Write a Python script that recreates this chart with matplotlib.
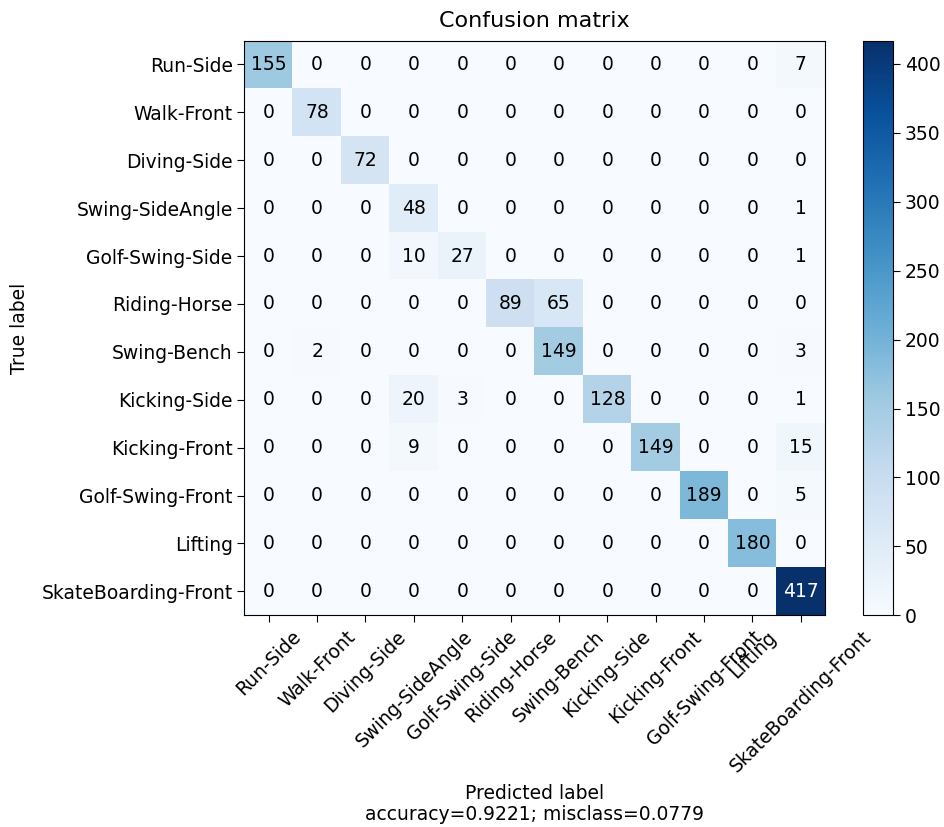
import numpy as np
import matplotlib
matplotlib.use("Agg")
import matplotlib.pyplot as plt

target_names = ["Run-Side", "Walk-Front", "Diving-Side", "Swing-SideAngle",
                "Golf-Swing-Side", "Riding-Horse", "Swing-Bench", "Kicking-Side",
                "Kicking-Front", "Golf-Swing-Front", "Lifting", "SkateBoarding-Front"]

row_run_side = [155, 0, 0, 0, 0, 0, 0, 0, 0, 0, 0, 7]
row_walk_front = [0, 78, 0, 0, 0, 0, 0, 0, 0, 0, 0, 0]
row_diving_side = [0, 0, 72, 0, 0, 0, 0, 0, 0, 0, 0, 0]
row_swing_sideangle = [0, 0, 0, 48, 0, 0, 0, 0, 0, 0, 0, 1]
row_golf_swing_side = [0, 0, 0, 10, 27, 0, 0, 0, 0, 0, 0, 1]
row_riding_horse = [0, 0, 0, 0, 0, 89, 65, 0, 0, 0, 0, 0]
row_swing_bench = [0, 2, 0, 0, 0, 0, 149, 0, 0, 0, 0, 3]
row_kicking_side = [0, 0, 0, 20, 3, 0, 0, 128, 0, 0, 0, 1]
row_kicking_front = [0, 0, 0, 9, 0, 0, 0, 0, 149, 0, 0, 15]
row_golf_swing_front = [0, 0, 0, 0, 0, 0, 0, 0, 0, 189, 0, 5]
row_lifting = [0, 0, 0, 0, 0, 0, 0, 0, 0, 0, 180, 0]
row_skateboarding_front = [0, 0, 0, 0, 0, 0, 0, 0, 0, 0, 0, 417]

cm = np.array([row_run_side, row_walk_front, row_diving_side, row_swing_sideangle,
               row_golf_swing_side, row_riding_horse, row_swing_bench, row_kicking_side,
               row_kicking_front, row_golf_swing_front, row_lifting,
               row_skateboarding_front])

accuracy = np.trace(cm) / cm.sum()
misclass = 1 - accuracy

fs = 13.5
plt.rcParams["font.size"] = fs
plt.rcParams["xtick.major.size"] = 5
plt.rcParams["ytick.major.size"] = 5

fig = plt.figure(figsize=(9.44, 8.27), dpi=100)
ax = fig.add_axes([0.259, 0.256, 0.615, 0.695])
cax = fig.add_axes([0.914, 0.256, 0.032, 0.695])

im = ax.imshow(cm, interpolation="nearest", cmap=plt.get_cmap("Blues"), aspect="auto")
ax.set_title("Confusion matrix", fontsize=16, pad=10)
cb = fig.colorbar(im, cax=cax)
cb.ax.tick_params(labelsize=fs)

ticks = np.arange(len(target_names))
ax.set_xticks(ticks)
ax.set_xticklabels(target_names, rotation=45, fontsize=fs)
ax.set_yticks(ticks)
ax.set_yticklabels(target_names, fontsize=fs)

thresh = cm.max() / 1.5
for i in range(cm.shape[0]):
    for j in range(cm.shape[1]):
        ax.text(j, i, "{:,}".format(cm[i, j]), ha="center", va="center", fontsize=fs,
                color="white" if cm[i, j] > thresh else "black")

ax.set_ylabel("True label", fontsize=fs)
ax.yaxis.set_label_coords(-0.372, 0.5)
ax.set_xlabel("Predicted label\naccuracy={:0.4f}; misclass={:0.4f}".format(accuracy, misclass),
              fontsize=fs, linespacing=1.1, labelpad=6)

fig.savefig("out.png", dpi=100)
